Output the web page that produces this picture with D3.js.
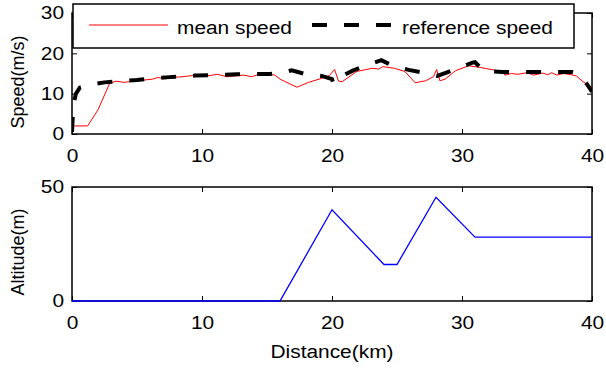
<!DOCTYPE html>
<html>
<head>
<meta charset="utf-8">
<script src="https://cdn.jsdelivr.net/npm/d3@7"></script>
<style>
  body { margin: 0; background: #fff; }
  text { font-family: "Liberation Sans", Arial, sans-serif; fill: #000; }
</style>
</head>
<body>
<div id="chart"></div>
<script>
// data
var meanDist = [0, 1.2, 2.0, 2.9, 3.4, 4.0, 5.0, 6.2, 6.6, 7.0, 7.7, 8.2, 9.3, 10.2, 11.2, 11.9, 13.2, 13.8, 14.2, 15.2, 15.6, 16.0, 17.3, 18.2, 19.2, 19.8, 20.2, 20.5, 20.8, 21.9, 23.1, 23.6, 23.9, 24.8, 25.6, 26.4, 27.2, 27.8, 28.05, 28.3, 28.7, 29.5, 30.5, 31.0, 31.4, 31.9, 33.1, 33.3, 33.8, 34.3, 35.0, 35.5, 36.2, 36.6, 36.9, 37.3, 37.8, 38.4, 38.8, 39.3, 40];
var meanSpeed = [2, 2, 6, 12.6, 13.1, 12.8, 13.2, 13.6, 14.0, 13.8, 14.2, 14.1, 14.5, 14.3, 14.8, 14.2, 14.6, 14.2, 14.6, 14.8, 14.6, 13.6, 11.6, 12.8, 13.8, 14.5, 16.0, 13.1, 13.0, 15.5, 16.3, 16.1, 16.7, 16.3, 15.5, 12.7, 13.2, 14.2, 16.0, 13.2, 13.6, 15.7, 16.9, 16.7, 16.5, 16.2, 15.5, 14.6, 15.0, 14.8, 15.2, 14.6, 15.1, 14.7, 15.2, 14.6, 15.0, 14.7, 14.4, 13.0, 11.5];

var refDist = [0, 0.1, 0.3, 0.6, 1.3, 2.5, 3.6, 5, 6, 7.5, 9.5, 12.7, 15.2, 16, 16.9, 17.9, 19.2, 20.0, 20.1, 20.4, 21.6, 22.7, 23.8, 24.8, 25.9, 27.0, 28.1, 28.8, 30.8, 31.0, 31.7, 33.1, 36.1, 38.4, 38.8, 39.3, 39.6, 40];
var refSpeed = [0.5, 7, 10, 11.5, 12.2, 12.8, 13.1, 13.4, 13.7, 14.1, 14.5, 14.8, 14.9, 15.1, 15.8, 14.9, 14.4, 13.6, 12.6, 13.8, 15.7, 17.1, 18.3, 16.7, 15.9, 15.2, 14.4, 15.2, 17.7, 17.8, 15.6, 15.4, 15.4, 15.4, 15.1, 13.5, 12.4, 10.5];

var altDist = [0, 16, 20, 24, 25, 28, 31, 40];
var altitude = [0, 0, 40, 16, 16, 45.5, 28, 28];

var xTicks = [0, 10, 20, 30, 40];
var speedTicks = [0, 10, 20, 30];
var altTicks = [0, 50];

var legendLabels = ["mean speed", "reference speed"];

// layout
var svgWidth = 606;
var svgHeight = 369;
var left = 72, right = 592;
var top1 = 13, bottom1 = 134;
var top2 = 187, bottom2 = 301;
var fontSize = 18;
var stretch = 1.16;

var svg = d3.select("#chart")
    .append("svg")
    .attr("width", svgWidth)
    .attr("height", svgHeight);

var xScale = d3.scaleLinear().domain([0, 40]).range([left, right]);
var ySpeed = d3.scaleLinear().domain([0, 30]).range([bottom1, top1]);
var yAlt = d3.scaleLinear().domain([0, 50]).range([bottom2, top2]);

// draw a MATLAB style box with inward ticks on all sides
function drawAxes(yScale, yTicks, top, bottom, id) {
    var g = svg.append("g");

    g.append("defs").append("clipPath")
        .attr("id", id)
        .append("rect")
        .attr("x", left).attr("y", top)
        .attr("width", right - left).attr("height", bottom - top);

    g.append("g")
        .attr("transform", `translate(0, ${bottom})`)
        .call(d3.axisBottom(xScale).tickValues(xTicks).tickSizeInner(-5).tickSizeOuter(0).tickPadding(15.3))
        .call(a => a.select(".domain").remove());

    g.append("g")
        .attr("transform", `translate(0, ${top})`)
        .call(d3.axisTop(xScale).tickValues(xTicks).tickSizeInner(-5).tickSizeOuter(0).tickFormat(""))
        .call(a => a.select(".domain").remove());

    g.append("g")
        .attr("transform", `translate(${left}, 0)`)
        .call(d3.axisLeft(yScale).tickValues(yTicks).tickSizeInner(-5).tickSizeOuter(0).tickPadding(8))
        .call(a => a.select(".domain").remove());

    g.append("g")
        .attr("transform", `translate(${right}, 0)`)
        .call(d3.axisRight(yScale).tickValues(yTicks).tickSizeInner(-5).tickSizeOuter(0).tickFormat(""))
        .call(a => a.select(".domain").remove());

    g.selectAll(".tick line").attr("stroke", "#000").attr("stroke-width", 1);
    g.selectAll(".tick text")
        .classed("stretch", true)
        .style("font-size", fontSize + "px")
        .style("font-family", "'Liberation Sans', Arial, sans-serif");

    g.append("rect")
        .attr("x", left).attr("y", top)
        .attr("width", right - left).attr("height", bottom - top)
        .attr("fill", "none")
        .attr("stroke", "#000")
        .attr("stroke-width", 1.5);
    return g;
}

var axTop = drawAxes(ySpeed, speedTicks, top1, bottom1, "clipTop");
var axBot = drawAxes(yAlt, altTicks, top2, bottom2, "clipBot");

// lines
var meanLine = d3.line()
    .x((d, i) => xScale(meanDist[i]))
    .y(d => ySpeed(d));

var refLine = d3.line()
    .x((d, i) => xScale(refDist[i]))
    .y(d => ySpeed(d));

var altLine = d3.line()
    .x((d, i) => xScale(altDist[i]))
    .y(d => yAlt(d));

axTop.append("path")
    .datum(meanSpeed)
    .attr("clip-path", "url(#clipTop)")
    .attr("d", meanLine)
    .attr("fill", "none")
    .attr("stroke", "#ff0000")
    .attr("stroke-width", 1);

axTop.append("path")
    .datum(refSpeed)
    .attr("clip-path", "url(#clipTop)")
    .attr("d", refLine)
    .attr("fill", "none")
    .attr("stroke", "#000")
    .attr("stroke-width", 4)
    .attr("stroke-dasharray", "15,17");

axBot.append("path")
    .datum(altitude)
    .attr("d", altLine)
    .attr("fill", "none")
    .attr("stroke", "#0000ff")
    .attr("stroke-width", 1.3);

// legend
var legend = svg.append("g");

legend.append("rect")
    .attr("x", 73).attr("y", 4)
    .attr("width", 501).attr("height", 44)
    .attr("fill", "#fff")
    .attr("stroke", "#000")
    .attr("stroke-width", 1.5);

legend.append("line")
    .attr("x1", 89).attr("x2", 168)
    .attr("y1", 25).attr("y2", 25)
    .attr("stroke", "#ff0000")
    .attr("stroke-width", 1);

legend.append("text")
    .classed("stretch", true)
    .attr("x", 177).attr("y", 33.5)
    .style("font-size", fontSize + "px")
    .text(legendLabels[0]);

legend.append("line")
    .attr("x1", 312).attr("x2", 392)
    .attr("y1", 25).attr("y2", 25)
    .attr("stroke", "#000")
    .attr("stroke-width", 4)
    .attr("stroke-dasharray", "15,17");

legend.append("text")
    .classed("stretch", true)
    .attr("x", 402).attr("y", 33.5)
    .style("font-size", fontSize + "px")
    .text(legendLabels[1]);

// axis labels
svg.append("text")
    .attr("transform", `translate(24, 82) rotate(-90)`)
    .attr("text-anchor", "middle")
    .style("font-size", fontSize + "px")
    .text("Speed(m/s)");

svg.append("text")
    .attr("transform", `translate(24, 252) rotate(-90)`)
    .attr("text-anchor", "middle")
    .style("font-size", fontSize + "px")
    .text("Altitude(m)");

svg.append("text")
    .classed("stretch", true)
    .attr("x", 332).attr("y", 358)
    .attr("text-anchor", "middle")
    .style("font-size", fontSize + "px")
    .text("Distance(km)");

// the picture is wider than it is tall, so widen horizontal text a bit
svg.selectAll("text.stretch").each(function() {
    var w = this.getComputedTextLength();
    d3.select(this)
        .attr("textLength", w * stretch)
        .attr("lengthAdjust", "spacingAndGlyphs");
});
</script>
</body>
</html>
